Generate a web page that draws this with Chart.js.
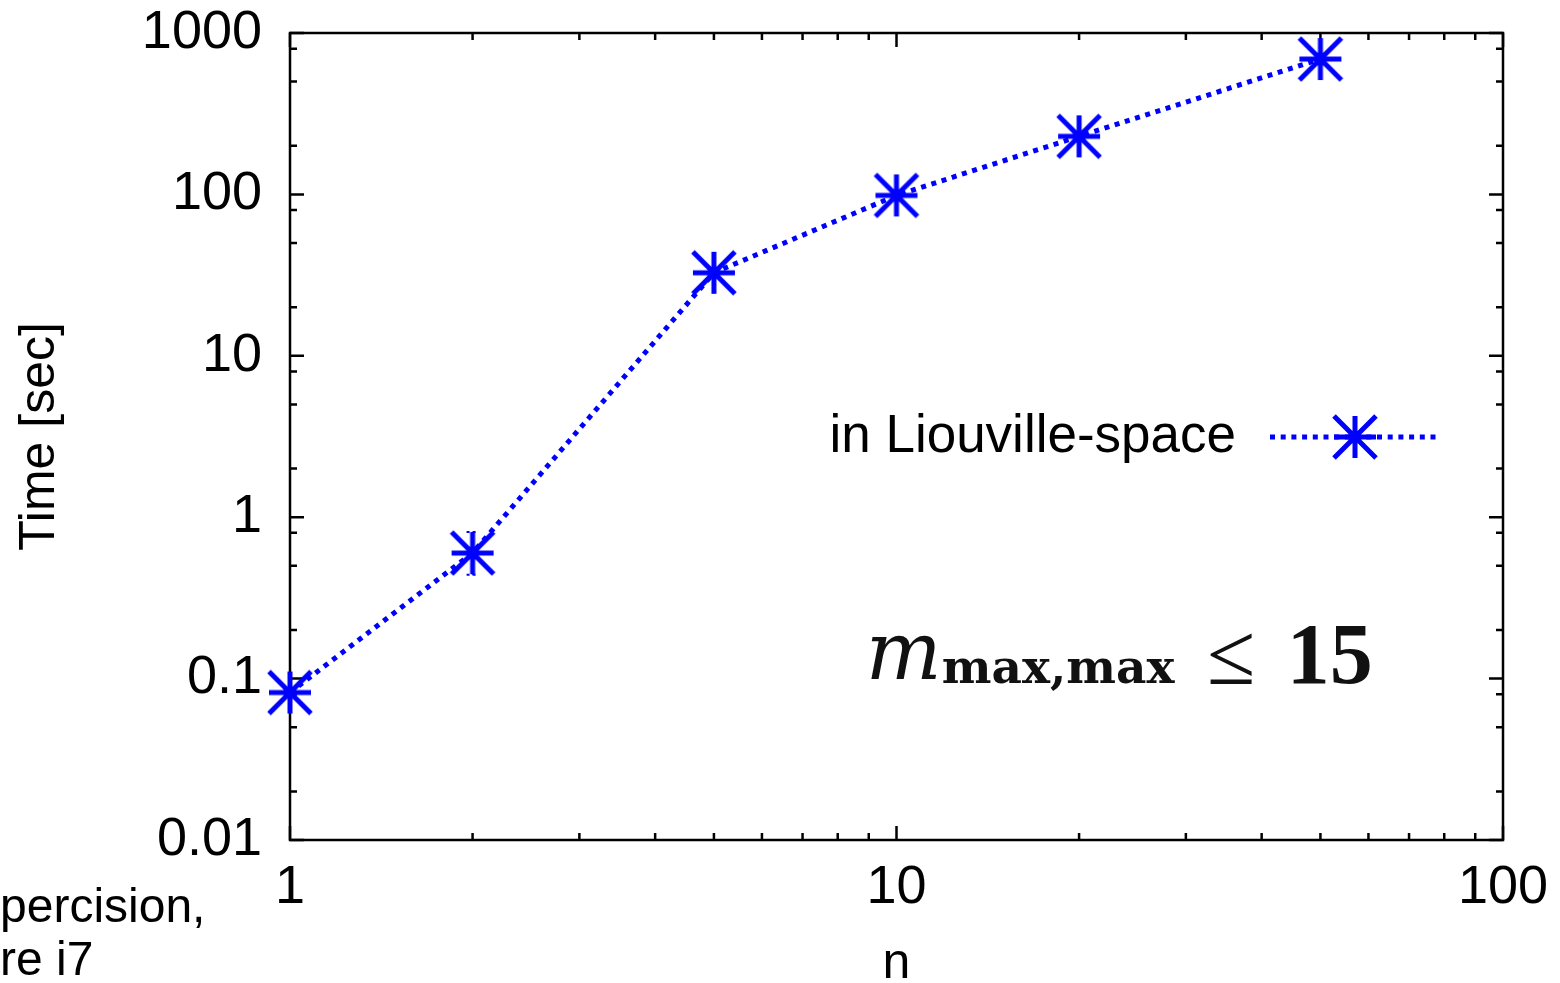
<!DOCTYPE html>
<html>
<head>
<meta charset="utf-8">
<title>Time vs n</title>
<script src="https://cdn.jsdelivr.net/npm/chart.js@4.4.1/dist/chart.umd.min.js"></script>
<style>
  body { margin: 0; background: #fff; }
  #wrap { width: 1560px; height: 983px; }
</style>
</head>
<body>
<div id="wrap"><canvas id="myChart" width="1560" height="983"></canvas></div>
<script>
// data
var nValues = [1, 2, 5, 10, 20, 50];
var times = [0.082, 0.6, 32.7, 98.6, 229, 690];
var errLow = [null, 0.44, null, null, null, null];
var errHigh = [null, 0.81, null, null, null, null];

var xTickLabels = [1, 10, 100];
var yTickLabels = [0.01, 0.1, 1, 10, 100, 1000];
var xMinor = [2, 3, 4, 5, 6, 7, 8, 9];
var yMinor = [2, 5, 8];

var seriesLabel = "in Liouville-space";
var footnote = ["percision,", "re i7"];

var BLUE = "#0000ff";
var SANS = "'Liberation Sans', Arial, sans-serif";
var DOTS = [5, 5.7];

// gnuplot style star: + and x overlaid
function makeStar(r, lw) {
  var c = document.createElement("canvas");
  var s = 2 * r + 2 * lw;
  c.width = s;
  c.height = s;
  var g = c.getContext("2d");
  var m = s / 2;
  g.strokeStyle = BLUE;
  g.lineWidth = lw;
  g.beginPath();
  g.moveTo(m - r, m); g.lineTo(m + r, m);
  g.moveTo(m, m - r); g.lineTo(m, m + r);
  g.moveTo(m - r, m - r); g.lineTo(m + r, m + r);
  g.moveTo(m - r, m + r); g.lineTo(m + r, m - r);
  g.stroke();
  return c;
}
var star = makeStar(21, 5);

// frame with inward ticks on all four sides
const frameTicks = {
  id: "frameTicks",
  beforeDatasetsDraw(chart) {
    const { ctx, chartArea: a, scales: { x, y } } = chart;
    ctx.save();
    ctx.strokeStyle = "#000";
    ctx.lineWidth = 2.5;
    ctx.beginPath();
    function xt(v, len) {
      var px = x.getPixelForValue(v);
      ctx.moveTo(px, a.bottom); ctx.lineTo(px, a.bottom - len);
      ctx.moveTo(px, a.top); ctx.lineTo(px, a.top + len);
    }
    function yt(v, len) {
      var py = y.getPixelForValue(v);
      ctx.moveTo(a.left, py); ctx.lineTo(a.left + len, py);
      ctx.moveTo(a.right, py); ctx.lineTo(a.right - len, py);
    }
    xTickLabels.forEach(function (d, i) {
      xt(d, 14);
      if (i < xTickLabels.length - 1) xMinor.forEach(function (m) { xt(d * m, 7); });
    });
    yTickLabels.forEach(function (d, i) {
      yt(d, 14);
      if (i < yTickLabels.length - 1) yMinor.forEach(function (m) { yt(d * m, 7); });
    });
    ctx.stroke();
    ctx.strokeRect(a.left, a.top, a.right - a.left, a.bottom - a.top);
    ctx.restore();
  },
};

// error bars, legend, annotation and footnote text
const extras = {
  id: "extras",
  afterDatasetsDraw(chart) {
    const { ctx, chartArea: a, scales: { x, y } } = chart;
    ctx.save();

    ctx.strokeStyle = BLUE;
    ctx.lineWidth = 2;
    ctx.setLineDash([3, 3]);
    nValues.forEach(function (n, i) {
      if (errLow[i] == null) return;
      var px = x.getPixelForValue(n);
      var lo = y.getPixelForValue(errLow[i]);
      var hi = y.getPixelForValue(errHigh[i]);
      ctx.beginPath();
      ctx.moveTo(px, lo); ctx.lineTo(px, hi);
      ctx.moveTo(px - 6, lo); ctx.lineTo(px + 6, lo);
      ctx.moveTo(px - 6, hi); ctx.lineTo(px + 6, hi);
      ctx.stroke();
    });

    // legend
    var ly = 437;
    ctx.setLineDash(DOTS);
    ctx.lineWidth = 5;
    ctx.beginPath();
    ctx.moveTo(1270, ly); ctx.lineTo(1440, ly);
    ctx.stroke();
    ctx.setLineDash([]);
    ctx.drawImage(star, 1355 - star.width / 2, ly - star.height / 2);
    ctx.fillStyle = "#000";
    ctx.font = "53px " + SANS;
    ctx.textAlign = "right";
    ctx.textBaseline = "middle";
    ctx.fillText(seriesLabel, 1236, ly);

    // m_max,max <= 15
    var ax = x.getPixelForValue(9);
    var ay = y.getPixelForValue(0.1);
    ctx.textAlign = "left";
    ctx.textBaseline = "alphabetic";
    ctx.fillStyle = "#111";
    ctx.font = "italic 80px 'DejaVu Serif', serif";
    ctx.fillText("m", ax - 3, ay);
    ctx.font = "bold 47px 'DejaVu Serif', serif";
    ctx.fillText("max,max", ax + 73, ay + 4);
    ctx.font = "88px 'Liberation Serif', serif";
    ctx.fillText("\u2264", ax + 338, ay + 5);
    ctx.font = "bold 86px 'Liberation Serif', serif";
    ctx.fillText("15", ax + 418, ay + 4);

    // clipped caption at bottom left
    ctx.fillStyle = "#000";
    ctx.font = "48px " + SANS;
    ctx.fillText(footnote[0], 0, 922);
    ctx.fillText(footnote[1], 0, 975);
    ctx.restore();
  },
};

const ctx = document.getElementById("myChart");

const config = {
  type: "line",
  data: {
    datasets: [
      {
        label: seriesLabel,
        data: nValues.map(function (n, i) { return { x: n, y: times[i] }; }),
        borderColor: BLUE,
        borderWidth: 5,
        borderDash: DOTS,
        pointStyle: star,
        pointRadius: 21,
        pointHoverRadius: 21,
        tension: 0,
        fill: false,
        clip: false,
      },
    ],
  },
  options: {
    responsive: false,
    animation: false,
    devicePixelRatio: 1,
    layout: { padding: { top: 33, right: 57, left: 0, bottom: 0 } },
    plugins: {
      legend: { display: false },
      tooltip: { enabled: false },
    },
    scales: {
      x: {
        type: "logarithmic",
        min: 1,
        max: 100,
        afterBuildTicks: function (s) {
          s.ticks = xTickLabels.map(function (v) { return { value: v }; });
        },
        afterFit: function (s) {
          s.height = 143;
          s.paddingLeft = 0;
          s.paddingRight = 0;
        },
        grid: { display: false, drawTicks: false },
        border: { display: false },
        ticks: {
          color: "#000",
          font: { family: SANS, size: 54 },
          padding: 16,
          maxRotation: 0,
          autoSkip: false,
          callback: function (v) { return String(v); },
        },
        title: {
          display: true,
          text: "n",
          color: "#000",
          font: { family: SANS, size: 50, lineHeight: 0.75 },
          padding: { top: 0, bottom: 0 },
        },
      },
      y: {
        type: "logarithmic",
        min: 0.01,
        max: 1000,
        afterBuildTicks: function (s) {
          s.ticks = yTickLabels.map(function (v) { return { value: v }; });
        },
        afterFit: function (s) {
          s.width = 290;
          s.paddingTop = 0;
          s.paddingBottom = 0;
        },
        grid: { display: false, drawTicks: false },
        border: { display: false },
        ticks: {
          color: "#000",
          font: { family: SANS, size: 54 },
          padding: 28,
          autoSkip: false,
          callback: function (v) { return String(v); },
        },
        title: {
          display: true,
          text: "Time [sec]",
          color: "#000",
          font: { family: SANS, size: 50 },
          padding: { top: 10, bottom: 0 },
        },
      },
    },
  },
  plugins: [frameTicks, extras],
};

var chart = new Chart(ctx, config);
</script>
</body>
</html>
